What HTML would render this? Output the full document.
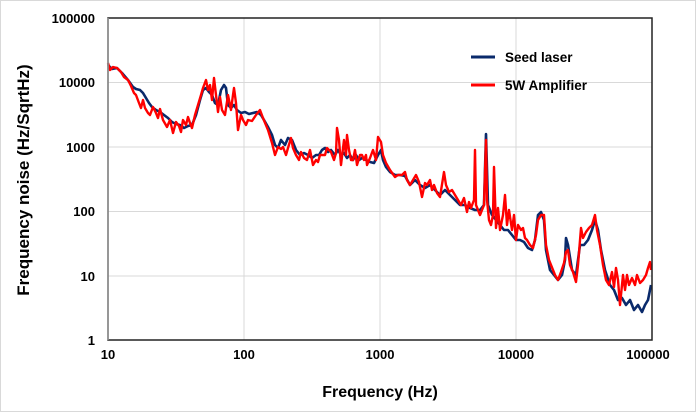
<!DOCTYPE html>
<html><head><meta charset="utf-8"><style>
body{margin:0;background:#fff;}
svg{display:block;font-family:"Liberation Sans",Arial,sans-serif;}
</style></head><body>
<svg width="696" height="412" viewBox="0 0 696 412">
<rect x="0.5" y="0.5" width="695" height="411" fill="#fff" stroke="#d9d9d9"/>
<g stroke="#d9d9d9" stroke-width="1">
<line x1="108" y1="82.5" x2="652" y2="82.5"/>
<line x1="108" y1="147" x2="652" y2="147"/>
<line x1="108" y1="211.5" x2="652" y2="211.5"/>
<line x1="108" y1="276" x2="652" y2="276"/>
<line x1="244" y1="18" x2="244" y2="340"/>
<line x1="380" y1="18" x2="380" y2="340"/>
<line x1="516" y1="18" x2="516" y2="340"/>
</g>
<polyline fill="none" stroke="#0a2a6b" stroke-width="2.6" stroke-linejoin="round" points="108,65 112,69 117,68 122,73 128,80 133,87 136,89 140,90 143,93 146,98 149,103 152,107 156,110 160,112 164,115 168,118 172,122 176,124 180,125 184,128 188,126 192,125 196,115 200,100 203,90 206,88 209,92 212,95 215,103 218,105 221,90 224,85 226,88 228,105 231,108 234,105 237,110 241,113 245,112 249,114 253,113 257,112 261,115 264,120 268,127 272,135 275,145 278,148 281,140 285,145 288,138 292,140 296,150 300,155 304,153 308,155 312,158 316,155 319,155 322,150 325,148 328,152 331,150 335,155 338,150 341,155 344,153 347,158 350,155 353,160 356,155 359,160 362,158 366,160 370,162 374,163 378,155 381,150 383,160 386,167 390,172 395,175 400,175 405,176 410,185 415,180 420,185 425,188 430,185 435,190 440,195 445,190 450,195 455,200 460,205 465,205 470,208 475,210 480,210 484,205 486,134 488,205 492,215 496,220 500,225 504,230 508,230 512,235 516,240 520,240 524,242 528,248 532,250 535,240 538,215 541,212 544,220 546,250 550,270 554,275 558,280 562,275 565,260 566,238 568,245 572,270 576,275 580,245 584,245 588,240 592,230 595,220 598,230 601,250 605,270 610,285 614,290 618,300 622,298 626,305 630,300 634,310 638,305 642,312 645,305 648,300 650,290 651,285"/>
<polyline fill="none" stroke="#ff0000" stroke-width="2.4" stroke-linejoin="round" points="108,63 110,70 113,67 117,68 121,72 124,77 128,80 131,86 134,93 136,95 139,103 141,108 143,100 145,108 148,113 150,115 153,107 156,113 158,118 160,109 163,120 167,127 170,120 173,133 176,122 179,126 181,132 183,120 186,125 188,117 190,123 192,128 195,115 198,105 201,95 203,88 206,80 208,90 210,85 212,100 214,78 216,95 218,112 220,97 222,110 225,115 228,95 231,110 233,95 234,88 236,103 238,130 241,115 243,120 246,125 248,120 252,121 256,115 260,110 263,118 268,130 272,143 275,155 278,147 281,149 283,147 286,155 288,148 291,138 293,148 296,155 299,160 301,152 304,158 307,160 310,150 313,165 316,160 318,162 320,155 325,155 327,148 329,150 331,152 334,160 336,153 337,128 339,140 341,165 344,140 346,155 347,135 349,150 351,160 353,160 355,150 357,165 360,155 362,155 364,160 366,155 367,165 370,158 373,150 376,160 378,137 381,142 383,155 386,163 390,170 395,177 398,175 402,175 405,172 407,180 410,185 413,180 416,175 419,182 422,197 425,183 427,185 430,180 432,190 434,185 437,193 440,197 444,172 446,185 449,192 452,190 455,195 458,200 461,205 464,198 467,212 469,202 471,208 474,200 475,150 476,205 478,210 480,215 482,210 484,205 486,140 487,200 489,220 491,225 493,215 494,167 496,228 498,208 500,230 503,215 505,195 507,225 509,210 512,230 514,215 516,240 518,225 521,230 523,228 525,238 527,240 530,245 533,248 536,235 538,220 541,215 544,215 546,245 549,260 551,265 555,275 558,280 561,272 564,263 566,252 568,250 570,265 573,272 576,282 578,265 581,228 583,238 586,232 589,228 592,225 595,215 597,230 600,245 603,265 606,280 609,285 612,272 614,287 616,268 618,280 620,305 623,275 625,290 627,275 629,285 632,278 635,285 637,275 640,283 643,280 646,275 648,268 650,262 651,270"/>
<rect x="108" y="18" width="544" height="322" fill="none" stroke="#222" stroke-width="1.5"/>
<line x1="108" y1="18" x2="108" y2="340" stroke="#999" stroke-width="1.5"/>
<g font-size="13" font-weight="bold" fill="#000" text-anchor="end">
<text x="95" y="23">100000</text>
<text x="95" y="87">10000</text>
<text x="95" y="152">1000</text>
<text x="95" y="216">100</text>
<text x="95" y="281">10</text>
<text x="95" y="345">1</text>
</g>
<g font-size="13" font-weight="bold" fill="#000" text-anchor="middle">
<text x="108" y="359">10</text>
<text x="244" y="359">100</text>
<text x="380" y="359">1000</text>
<text x="516" y="359">10000</text>
<text x="648" y="359">100000</text>
</g>
<text x="380" y="397" font-size="16" font-weight="bold" text-anchor="middle">Frequency (Hz)</text>
<text transform="translate(29,180) rotate(-90)" font-size="17" font-weight="bold" text-anchor="middle">Frequency noise (Hz/SqrtHz)</text>
<line x1="471" y1="57" x2="495" y2="57" stroke="#0a2a6b" stroke-width="3"/>
<text x="505" y="62" font-size="13.5" font-weight="bold">Seed laser</text>
<line x1="471" y1="85" x2="495" y2="85" stroke="#ff0000" stroke-width="3"/>
<text x="505" y="90" font-size="13.5" font-weight="bold">5W Amplifier</text>
</svg>
</body></html>
